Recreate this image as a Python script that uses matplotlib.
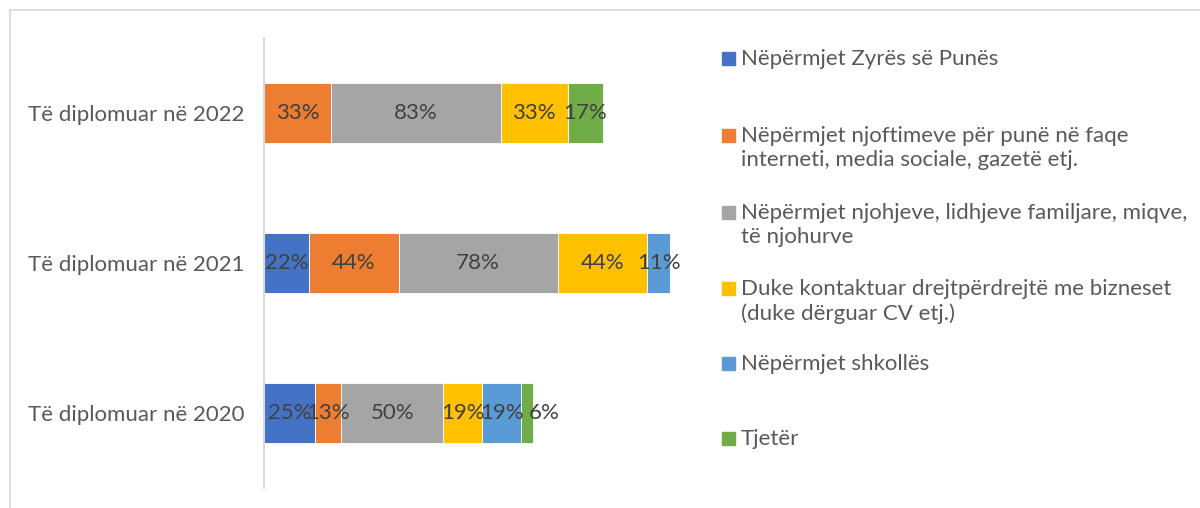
import matplotlib.pyplot as plt
from matplotlib.patches import Rectangle
from matplotlib.lines import Line2D

plt.rcParams['font.family'] = ['Lato', 'DejaVu Sans']

# Categories (top to bottom) and series values in percent
groups = ['Të diplomuar në 2022', 'Të diplomuar në 2021', 'Të diplomuar në 2020']
series_names = [
    'Nëpërmjet Zyrës së Punës',
    'Nëpërmjet njoftimeve për punë në faqe\ninterneti, media sociale, gazetë etj.',
    'Nëpërmjet njohjeve, lidhjeve familjare, miqve,\ntë njohurve',
    'Duke kontaktuar drejtpërdrejtë me bizneset\n(duke dërguar CV etj.)',
    'Nëpërmjet shkollës',
    'Tjetër',
]
zyra = [0, 22, 25]
njoftime = [33, 44, 13]
njohje = [83, 78, 50]
kontakt = [33, 44, 19]
shkolla = [0, 11, 19]
tjeter = [17, 0, 6]
series_values = [zyra, njoftime, njohje, kontakt, shkolla, tjeter]
colors = ['#4472C4', '#ED7D31', '#A5A5A5', '#FFC000', '#5B9BD5', '#70AD47']

FS = 16
W, H = 1200, 508
fig = plt.figure(figsize=(W / 100, H / 100), dpi=100)

# chart frame
fig.add_artist(Line2D([10 / W, 10 / W], [0, 1 - 10 / H], color='#D9D9D9', lw=1.2))
fig.add_artist(Line2D([10 / W, 1], [1 - 10 / H, 1 - 10 / H], color='#D9D9D9', lw=1.2))

ax = fig.add_axes([264 / W, 20 / H, 416 / W, 450 / H])
ypos = list(range(len(groups)))
left = [0] * len(groups)
for name, vals, c in zip(series_names, series_values, colors):
    bars = ax.barh(ypos, vals, left=left, height=0.4, color=c,
                   edgecolor='white', linewidth=0.6, label=name)
    for b, v in zip(bars, vals):
        if v > 0:
            # very narrow segments get their label nudged right, like Excel does
            dx = 12 if v < 8 else 0
            ax.annotate(f'{v}%', (b.get_x() + b.get_width() / 2, b.get_y() + b.get_height() / 2),
                        xytext=(dx, 0), textcoords='offset points',
                        ha='center', va='center', fontsize=FS, color='#404040')
    left = [l + v for l, v in zip(left, vals)]

ax.set_xlim(0, 204)
ax.set_ylim(len(groups) - 0.5, -0.5)
ax.set_yticks(ypos)
ax.set_yticklabels(groups, fontsize=FS, color='#595959')
ax.tick_params(axis='y', length=0, pad=14)
ax.set_xticks([])
for s in ['top', 'right', 'bottom']:
    ax.spines[s].set_visible(False)
ax.spines['left'].set_color('#D9D9D9')
ax.spines['left'].set_linewidth(1.5)

# legend drawn entry by entry, aligned at first text line
leg_y = [58, 135, 212, 288, 363, 438]
for name, c, y in zip(series_names, colors, leg_y):
    fig.add_artist(Rectangle((722 / W, 1 - (y + 7) / H), 13 / W, 13 / H,
                             color=c, transform=fig.transFigure))
    fig.text(741 / W, 1 - (y - 9) / H, name, fontsize=FS, color='#595959',
             va='top', ha='left', linespacing=1.25)

fig.savefig('out.png', dpi=100)
